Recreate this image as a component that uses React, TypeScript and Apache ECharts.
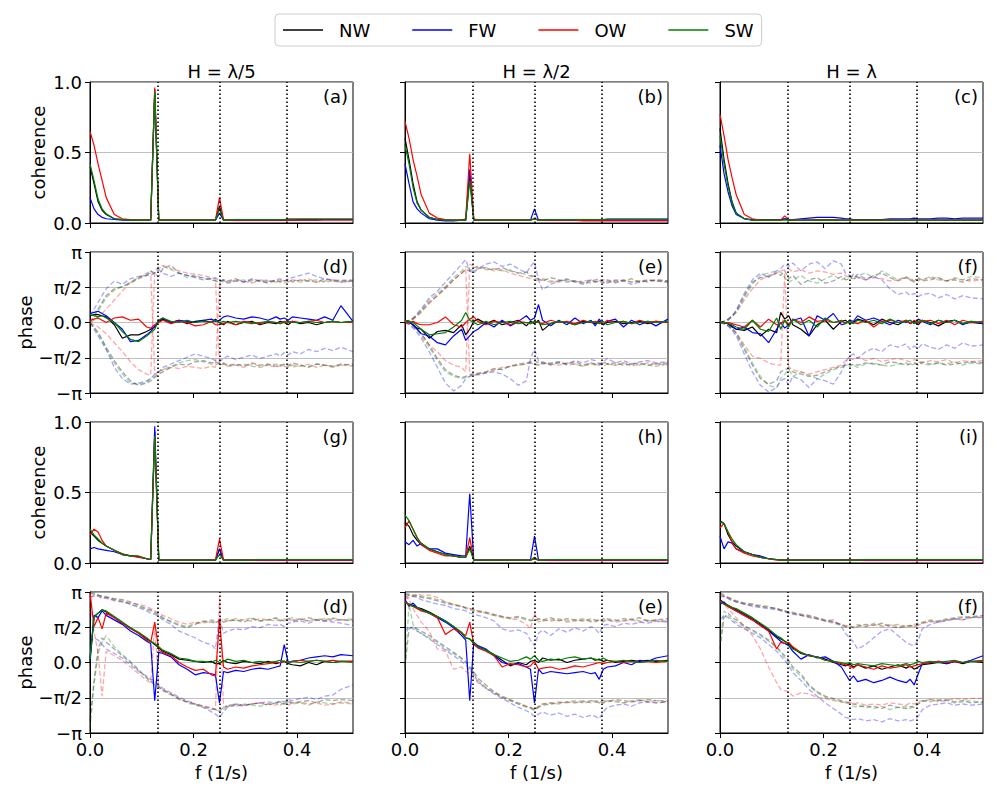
import { useEffect, useRef } from 'react';
import * as echarts from 'echarts';

const FONT = 'DejaVu Sans';

// frequency grid (1/s), shared by every curve
const freq = [
  0, 0.0078, 0.0156, 0.0234, 0.0313, 0.0469, 0.0625, 0.0781, 0.0938, 0.1094,
  0.1172, 0.125, 0.1328, 0.1406, 0.1563, 0.1719, 0.1875, 0.2031, 0.2188, 0.2344,
  0.2422, 0.25, 0.2578, 0.2656, 0.2813, 0.2969, 0.3125, 0.3281, 0.3438, 0.3594,
  0.3672, 0.375, 0.3828, 0.3906, 0.4063, 0.4219, 0.4375, 0.4531, 0.4688, 0.4844,
  0.5078,
];

const seriesNames = ['NW', 'FW', 'OW', 'SW'];
const seriesColors = ['#000000', '#0000ff', '#ff0000', '#008000'];
const columnTitles = ['H = λ/5', 'H = λ/2', 'H = λ'];
const panelLabels = ['(a)', '(b)', '(c)', '(d)', '(e)', '(f)', '(g)', '(h)', '(i)', '(d)', '(e)', '(f)'];
const rowNames = ['coherence', 'phase', 'coherence', 'phase'];
const phaseTickLabels = ['−π', '−π/2', '0.0', 'π/2', 'π'];
const xTicks = [0, 0.2, 0.4];
const markerFreqs = [0.125, 0.25, 0.375];

// ---- coherence, row 1 (NW, FW, OW, SW)
const cohA = [
  [0.40,0.28,0.15,0.09,0.06,0.03,0.025,0.02,0.02,0.02, 0.02,0.95,0.02,0.02,0.02,0.02,0.02,0.02,0.02,0.02, 0.02,0.12,0.02,0.02,0.02,0.02,0.02,0.02,0.02,0.02, 0.02,0.02,0.02,0.02,0.025,0.025,0.025,0.025,0.025,0.025, 0.025],
  [0.18,0.10,0.06,0.04,0.03,0.025,0.02,0.02,0.02,0.02, 0.02,0.92,0.02,0.02,0.02,0.02,0.02,0.02,0.02,0.02, 0.02,0.07,0.02,0.02,0.02,0.02,0.02,0.02,0.02,0.02, 0.02,0.02,0.02,0.02,0.02,0.02,0.02,0.025,0.025,0.025, 0.025],
  [0.65,0.55,0.42,0.30,0.18,0.06,0.03,0.025,0.02,0.02, 0.02,0.96,0.02,0.02,0.02,0.02,0.02,0.02,0.02,0.02, 0.02,0.18,0.02,0.02,0.02,0.02,0.02,0.02,0.02,0.02, 0.02,0.02,0.02,0.02,0.02,0.02,0.02,0.02,0.02,0.02, 0.02],
  [0.42,0.30,0.17,0.10,0.065,0.03,0.025,0.02,0.02,0.02, 0.02,0.93,0.02,0.02,0.02,0.02,0.02,0.02,0.02,0.02, 0.02,0.10,0.02,0.02,0.025,0.025,0.025,0.025,0.025,0.025, 0.025,0.025,0.03,0.03,0.03,0.03,0.03,0.03,0.03,0.03, 0.03],
];
const cohB = [
  [0.60,0.45,0.28,0.15,0.09,0.04,0.025,0.02,0.02,0.02, 0.02,0.33,0.02,0.02,0.02,0.02,0.02,0.02,0.02,0.02, 0.02,0.03,0.02,0.02,0.02,0.02,0.02,0.02,0.02,0.02, 0.02,0.02,0.02,0.02,0.02,0.02,0.02,0.02,0.02,0.02, 0.02],
  [0.42,0.28,0.15,0.10,0.07,0.03,0.02,0.015,0.015,0.02, 0.02,0.38,0.02,0.02,0.02,0.02,0.02,0.02,0.02,0.02, 0.02,0.10,0.02,0.02,0.02,0.02,0.02,0.02,0.02,0.02, 0.02,0.02,0.02,0.02,0.02,0.02,0.02,0.02,0.02,0.02, 0.02],
  [0.72,0.60,0.45,0.33,0.20,0.07,0.035,0.025,0.02,0.02, 0.03,0.49,0.03,0.02,0.02,0.02,0.02,0.02,0.02,0.02, 0.02,0.03,0.02,0.02,0.02,0.02,0.02,0.02,0.015,0.015, 0.015,0.015,0.015,0.015,0.015,0.015,0.015,0.015,0.015,0.015, 0.015],
  [0.55,0.42,0.25,0.14,0.09,0.04,0.025,0.02,0.02,0.02, 0.02,0.30,0.02,0.02,0.02,0.02,0.02,0.02,0.02,0.02, 0.02,0.03,0.02,0.02,0.025,0.025,0.025,0.025,0.025,0.025, 0.025,0.025,0.025,0.03,0.03,0.03,0.03,0.03,0.03,0.03, 0.03],
];
const cohC = [
  [0.67,0.45,0.28,0.15,0.07,0.03,0.02,0.02,0.02,0.02, 0.02,0.03,0.02,0.02,0.02,0.02,0.02,0.02,0.02,0.02, 0.02,0.02,0.02,0.02,0.02,0.02,0.02,0.02,0.02,0.02, 0.02,0.02,0.02,0.02,0.02,0.02,0.02,0.02,0.02,0.02, 0.02],
  [0.55,0.35,0.22,0.12,0.06,0.03,0.025,0.025,0.025,0.025, 0.025,0.03,0.025,0.025,0.03,0.035,0.04,0.04,0.04,0.035, 0.03,0.03,0.025,0.025,0.025,0.025,0.025,0.03,0.03,0.03, 0.03,0.035,0.03,0.03,0.03,0.035,0.035,0.03,0.035,0.035, 0.035],
  [0.77,0.62,0.45,0.32,0.20,0.06,0.03,0.02,0.02,0.02, 0.02,0.05,0.02,0.02,0.02,0.02,0.025,0.025,0.025,0.02, 0.02,0.02,0.02,0.02,0.02,0.02,0.02,0.02,0.02,0.02, 0.02,0.02,0.02,0.02,0.02,0.02,0.02,0.02,0.02,0.02, 0.02],
  [0.62,0.42,0.26,0.14,0.07,0.03,0.02,0.02,0.02,0.02, 0.02,0.02,0.02,0.02,0.02,0.02,0.02,0.02,0.02,0.02, 0.02,0.02,0.02,0.02,0.02,0.02,0.02,0.02,0.02,0.02, 0.02,0.02,0.02,0.02,0.02,0.02,0.02,0.02,0.02,0.02, 0.02],
];

// ---- coherence, row 3
const cohG = [
  [0.22,0.19,0.16,0.14,0.12,0.09,0.065,0.05,0.045,0.03, 0.025,0.93,0.02,0.02,0.02,0.02,0.02,0.02,0.02,0.02, 0.02,0.10,0.02,0.02,0.02,0.02,0.02,0.02,0.02,0.02, 0.02,0.02,0.02,0.02,0.02,0.02,0.02,0.02,0.02,0.02, 0.02],
  [0.10,0.11,0.10,0.095,0.09,0.08,0.06,0.05,0.045,0.03, 0.025,0.97,0.02,0.02,0.02,0.02,0.02,0.02,0.02,0.02, 0.02,0.10,0.02,0.02,0.02,0.02,0.02,0.02,0.02,0.02, 0.02,0.02,0.02,0.02,0.02,0.02,0.02,0.02,0.02,0.02, 0.02],
  [0.20,0.24,0.22,0.16,0.12,0.09,0.06,0.05,0.04,0.03, 0.025,0.90,0.02,0.02,0.02,0.02,0.02,0.02,0.02,0.02, 0.02,0.17,0.02,0.02,0.02,0.02,0.02,0.02,0.02,0.02, 0.02,0.02,0.02,0.02,0.02,0.02,0.02,0.02,0.02,0.02, 0.02],
  [0.24,0.20,0.17,0.14,0.12,0.09,0.06,0.05,0.05,0.03, 0.025,0.90,0.02,0.02,0.02,0.02,0.02,0.02,0.02,0.02, 0.02,0.06,0.02,0.02,0.02,0.02,0.02,0.025,0.025,0.025, 0.025,0.025,0.025,0.025,0.025,0.025,0.025,0.025,0.025,0.025, 0.025],
];
const cohH = [
  [0.29,0.26,0.20,0.16,0.13,0.10,0.08,0.06,0.05,0.04, 0.04,0.12,0.02,0.02,0.02,0.02,0.02,0.02,0.02,0.02, 0.02,0.03,0.02,0.02,0.02,0.02,0.02,0.02,0.02,0.02, 0.02,0.02,0.02,0.02,0.02,0.02,0.02,0.02,0.02,0.02, 0.02],
  [0.15,0.13,0.16,0.12,0.14,0.10,0.10,0.07,0.06,0.05, 0.05,0.49,0.02,0.02,0.02,0.02,0.02,0.02,0.02,0.02, 0.02,0.19,0.02,0.02,0.02,0.02,0.02,0.02,0.02,0.02, 0.02,0.02,0.02,0.02,0.02,0.02,0.02,0.02,0.02,0.02, 0.02],
  [0.25,0.30,0.24,0.18,0.13,0.09,0.07,0.05,0.05,0.04, 0.04,0.18,0.02,0.02,0.02,0.02,0.02,0.02,0.02,0.02, 0.02,0.03,0.02,0.02,0.02,0.02,0.02,0.02,0.02,0.02, 0.02,0.02,0.02,0.02,0.02,0.02,0.02,0.02,0.02,0.02, 0.02],
  [0.34,0.30,0.24,0.18,0.14,0.10,0.08,0.06,0.05,0.04, 0.04,0.10,0.02,0.02,0.02,0.02,0.02,0.02,0.02,0.02, 0.02,0.04,0.02,0.02,0.025,0.025,0.025,0.025,0.025,0.025, 0.025,0.025,0.025,0.025,0.025,0.025,0.025,0.025,0.025,0.025, 0.025],
];
const cohI = [
  [0.30,0.28,0.20,0.15,0.12,0.08,0.06,0.04,0.03,0.025, 0.02,0.02,0.02,0.02,0.02,0.02,0.02,0.02,0.02,0.02, 0.02,0.02,0.02,0.02,0.02,0.02,0.02,0.02,0.02,0.02, 0.02,0.02,0.02,0.02,0.02,0.02,0.02,0.02,0.02,0.02, 0.02],
  [0.19,0.10,0.15,0.14,0.10,0.08,0.06,0.05,0.03,0.025, 0.02,0.02,0.02,0.02,0.02,0.02,0.02,0.02,0.02,0.02, 0.02,0.02,0.02,0.02,0.02,0.02,0.02,0.02,0.02,0.02, 0.02,0.02,0.02,0.02,0.02,0.02,0.02,0.02,0.02,0.02, 0.02],
  [0.25,0.28,0.22,0.14,0.10,0.07,0.05,0.04,0.03,0.02, 0.02,0.02,0.02,0.02,0.02,0.02,0.02,0.02,0.02,0.02, 0.02,0.02,0.02,0.02,0.02,0.02,0.02,0.02,0.02,0.02, 0.02,0.02,0.02,0.02,0.02,0.02,0.02,0.02,0.02,0.02, 0.02],
  [0.29,0.28,0.22,0.17,0.13,0.08,0.06,0.04,0.03,0.025, 0.02,0.02,0.02,0.02,0.02,0.02,0.02,0.02,0.02,0.02, 0.02,0.02,0.02,0.02,0.025,0.025,0.025,0.025,0.025,0.025, 0.025,0.025,0.025,0.025,0.025,0.025,0.025,0.025,0.025,0.025, 0.025],
];

// ---- phase (rad), row 2, solid (NW, FW, OW, SW)
const phaseD = [
  [0.3,0.35,0.35,0.3,0.25,-0.1,-0.7,-0.55,-0.55,-0.4, -0.3,-0.2,0.05,0.15,0,0.1,-0.05,0.05,0.1,0, 0.15,0,-0.1,0.05,-0.1,0,0.05,-0.1,0,-0.05, 0.05,0,-0.1,0.05,-0.05,0,-0.1,0,0.05,0, 0.05],
  [0.4,0.45,0.5,0.4,0.3,0,-0.3,-0.85,-0.8,-0.55, -0.4,-0.15,0.1,0.2,0,0.1,0.05,0,0.1,0.15, 0.05,0.1,0.25,0.3,0.2,0.15,0.25,0.2,0.1,0.25, 0.15,0.2,0.1,0.25,0.2,0.15,0.1,0.25,0.1,0.75, 0.05],
  [0.1,0.15,0.2,0.1,0,0.2,0.25,0.1,0.15,-0.2, -0.25,-0.1,0,0.1,-0.05,0.05,0,-0.15,-0.1,0.05, -0.1,-0.1,-0.05,0,-0.1,0.05,0,-0.05,0.05,0, -0.05,0.05,0,0.05,0,0.05,0.1,0,0.05,0, 0],
  [0.35,0.3,0.25,0.3,0.2,0,-0.4,-0.75,-0.85,-0.6, -0.45,-0.3,0.1,0.2,0.05,0,0.1,0,0.05,0, 0.1,0,0.05,0,0.05,0,-0.05,0,0.05,0, -0.05,0,0.05,0,0,0.05,0,0,0.05,0, 0.05],
];
const phaseE = [
  [0.1,0.05,-0.1,-0.25,-0.3,-0.7,-0.4,-0.35,-0.45,-0.1, -0.55,-0.3,0.05,0.15,-0.05,0.1,-0.1,0,0.1,-0.15, 0.05,-0.05,0.1,-0.35,-0.05,0.05,0,-0.1,0.05,0, -0.05,0.05,-0.1,0,0.05,-0.05,0,0.05,-0.05,0.05, 0],
  [0.1,0,-0.1,-0.3,-0.5,-0.6,-0.9,-1.0,-0.6,-0.3, -0.8,-0.6,-0.4,-0.3,0,-0.2,0.1,-0.15,0.05,0.3, 0.1,0.2,0.8,0.1,-0.15,0.1,-0.1,0.2,-0.05,0.1, -0.15,0.15,-0.1,0.05,0.15,-0.2,0.1,-0.1,0.05,-0.15, 0.15],
  [0.05,0,0.05,-0.05,-0.1,-0.1,0,0.25,-0.1,-0.2, 0,0.15,0.25,0.05,-0.1,0.05,0,-0.1,0.05,0, -0.05,0.05,0,-0.05,0.1,0,0.05,-0.05,0.1,0, 0.05,0,-0.05,0.1,0,0.05,-0.05,0.1,0,0.05, 0],
  [0.1,0.05,0,-0.15,-0.3,-0.55,-0.5,-0.45,-0.2,0.1, 0.45,0.1,0,-0.1,0.05,-0.1,0,0.05,-0.05,0, -0.05,0.05,0,-0.1,-0.05,0.05,0,-0.1,0,0.05, 0,-0.05,0.05,-0.1,0,0.05,-0.05,0,0.05,0, 0.05],
];
const phaseF = [
  [0.05,0,-0.05,-0.2,-0.3,-0.35,-0.2,-0.6,-0.3,-0.45, 0.45,0.15,0.3,-0.1,-0.3,-0.6,-0.1,0.1,-0.3,0.05, 0.1,-0.05,0,0.15,0.05,-0.1,0.15,0,-0.1,0.1, -0.05,0.05,-0.1,0.1,0,-0.15,0.05,0.1,-0.05,0, -0.05],
  [0.05,0,-0.05,-0.15,-0.3,-0.2,-0.45,-0.5,-0.9,-0.3, 0,-0.25,-0.1,0.1,0.2,-0.6,0.3,0.1,0.4,-0.1, -0.05,0.1,0.05,0.3,0.1,0.2,0.05,-0.1,0.1,0, 0.1,-0.05,0.15,0.05,-0.1,0.1,0,0.1,-0.1,0.05, -0.05],
  [0.05,0,0,-0.05,-0.1,-0.2,0.1,-0.2,0.15,-0.1, -0.05,0.1,-0.1,0.15,0,0.25,0.05,0.1,0,0.05, 0,0.05,0,-0.05,0.1,-0.2,0.05,0.1,0,0.1, -0.05,0.1,0,0.05,0.1,-0.05,0.1,-0.1,0.1,0, 0.05],
  [0.05,0,-0.05,-0.1,-0.2,-0.3,0.1,-0.3,-0.4,0.2, -0.3,0.1,-0.2,0.15,-0.1,0.1,-0.2,0.2,0,0.1, -0.05,0.05,-0.05,0.1,0,0.1,-0.05,0.15,0,0.05, 0.1,-0.05,0.05,0.1,-0.05,0.1,0,0.1,-0.05,0.05, 0],
];

// ---- phase (rad), row 4, solid
const phaseJ = [
  [0,2.05,2.2,2.35,2.25,2.0,1.75,1.55,1.3,1.05, 0.95,0.8,0.65,0.5,0.35,0.15,0.1,0.05,0,0.05, -0.05,-0.05,0.1,0,-0.05,0.05,0,-0.05,0.05,-0.05, 0,0.05,-0.05,-0.1,-0.15,0,-0.1,0.05,0,0.05, 0.05],
  [0.2,2.1,2.0,2.3,2.1,1.9,1.7,1.4,1.2,0.95, 0.85,-1.7,0.45,0.4,0.25,-0.1,-0.3,-0.55,-0.45,-0.5, -0.55,-1.8,-0.4,-0.45,-0.35,-0.4,-0.3,-0.25,-0.3,-0.2, -0.15,0.8,0,0.05,0.1,0.2,0.25,0.3,0.25,0.35, 0.3],
  [3.1,1.6,2.0,1.5,2.2,2.0,1.75,1.5,1.3,1.0, 0.9,1.8,0.55,0.45,0.3,0,-0.2,-0.35,-0.3,-0.55, -0.6,1.9,-0.2,-0.3,-0.2,-0.25,-0.15,-0.1,-0.05,0, 0,0.05,0,0.05,0.1,0.05,0.1,0.05,0.1,0.05, 0.05],
  [0.15,2.0,2.2,2.35,2.3,2.05,1.8,1.55,1.35,1.1, 0.95,0.85,0.7,0.55,0.4,0.2,0.15,0.05,0.05,0, 0.1,0,0.05,0.15,0.05,0.1,0,0.05,0,0.05, 0.1,0.05,0,0.05,0,0.05,0.1,0.05,0,0.05, 0],
];
const phaseK = [
  [2.7,2.6,2.55,2.45,2.4,2.25,2.05,1.85,1.6,1.3, 1.1,1.05,0.85,0.7,0.55,0.35,0.1,-0.15,0,-0.1, 0.05,0.1,0,0.2,0.1,0.15,0,0.1,0.15,0.2, 0.1,0.15,0.05,0.1,0,0.05,0.1,0.05,0.1,0.05, 0.1],
  [2.8,2.5,2.65,2.45,2.35,2.2,2.0,1.8,1.55,1.2, 1.0,-1.7,0.9,0.75,0.6,0.3,0,-0.1,-0.05,-0.2, -0.3,-1.8,-0.3,-0.5,-0.4,-0.45,-0.5,-0.45,-0.4,-0.5, -0.45,-0.75,-0.3,-0.2,-0.15,0,-0.1,0.1,0.05,0.2, 0.3],
  [2.7,2.55,2.5,2.4,2.3,2.2,2.0,1.25,1.5,1.3, 1.2,1.8,0.8,0.65,0.5,0.3,-0.2,-0.05,-0.1,-0.2, -0.15,0.05,-0.3,-0.25,-0.2,-0.3,-0.25,-0.15,-0.2,-0.1, -0.05,0,-0.05,0,0.05,0,0.05,0,0.05,0, 0.05],
  [2.65,2.6,2.5,2.45,2.35,2.2,2.05,1.85,1.6,1.35, 1.1,1.05,0.9,0.7,0.55,0.35,0.2,0.05,0.1,0.25, 0.15,0.3,0.1,0.05,0.15,0.1,0.2,0.25,0.15,0.2, 0.15,0.1,0.2,0.1,0.05,0.1,0.05,0,0.05,0.1, 0.05],
];
const phaseL = [
  [2.8,2.65,2.55,2.45,2.35,2.15,1.95,1.7,1.45,1.15, 1.05,0.95,0.85,0.65,0.4,0.3,0.25,0.15,0,-0.1, -0.15,-0.05,-0.2,-0.1,-0.25,-0.15,-0.3,-0.2,-0.1,-0.25, -0.15,-0.3,-0.2,-0.1,-0.05,0,-0.05,0.05,-0.05,0.05, 0],
  [2.6,2.7,2.5,2.4,2.3,2.1,1.9,1.65,1.4,1.1, 0.95,0.85,0.75,0.5,0.15,0.35,0.2,0.25,0.05,-0.2, -0.5,-0.8,-0.6,-0.85,-0.75,-0.9,-0.8,-0.65,-0.8,-0.9, -0.75,-1.0,-0.5,-0.05,0,0.05,-0.05,0.05,0,0.1, 0.3],
  [2.75,2.6,2.5,2.4,2.3,2.1,1.9,1.65,1.4,0.6, 0.9,0.85,0.9,0.7,0.45,0.3,0.25,0.1,0.05,-0.05, -0.1,-0.15,-0.25,-0.1,-0.2,-0.3,-0.15,-0.25,-0.2,-0.1, -0.2,-0.15,-0.1,-0.05,0,0.05,0,0.05,0,0.05, 0.05],
  [2.7,2.6,2.55,2.45,2.4,2.2,2.0,1.75,1.5,1.2, 1.1,0.95,0.8,0.6,0.45,0.3,0.25,0.1,0.05,0, -0.05,0,-0.1,-0.05,-0.1,-0.15,-0.05,-0.1,-0.15,-0.05, -0.1,-0.05,0.05,0,0.05,0,0.05,0.1,0,0.05, 0.1],
];

// ---- phase branches, dashed: NW up/down, FW up/down, OW up/down, SW up/down
const dashD = [
  [0,0.3,0.6,0.9,1.2,1.5,1.6,1.75,1.95,2.1, 2.3,2.15,2.05,2.4,2.55,2.2,2.1,2.0,1.9,1.95, 1.85,1.8,1.9,1.85,1.95,1.8,1.9,1.85,1.75,1.9, 1.8,1.85,1.95,1.8,1.9,1.85,1.8,1.95,1.85,1.8, 1.85],
  [0,-0.2,-0.45,-0.75,-1.1,-1.7,-2.2,-2.6,-2.8,-2.7, -2.6,-2.45,-2.3,-2.2,-2.0,-1.85,-1.9,-1.75,-1.7,-1.8, -1.75,-1.85,-1.8,-1.9,-1.85,-1.95,-1.8,-1.9,-1.85,-1.95, -1.9,-1.85,-1.95,-1.8,-1.9,-2.0,-1.85,-1.9,-1.95,-1.85, -1.9],
  [0.3,0.6,0.9,1.2,1.5,1.85,1.7,1.95,2.05,2.1, 2.1,2.2,2.35,2.2,2.05,2.2,2.1,2.05,2.0,1.95, 2.0,1.85,1.9,1.75,1.85,1.8,1.95,1.85,1.8,1.9, 1.95,1.85,1.9,2.0,2.1,2.2,2.05,1.95,1.9,1.85, 1.9],
  [0,-0.3,-0.6,-0.9,-1.2,-2.0,-2.5,-2.75,-2.7,-2.6, -2.5,-2.3,-2.2,-2.0,-1.85,-1.7,-1.55,-1.4,-1.5,-1.6, -1.7,-1.75,-1.6,-1.5,-1.65,-1.55,-1.45,-1.6,-1.5,-1.4, -1.5,-1.35,-1.45,-1.3,-1.4,-1.2,-1.3,-1.15,-1.25,-1.1, -1.3],
  [0,0.1,0.25,0.4,0.6,1.0,1.4,1.8,2.0,2.15, 2.2,-2.3,-2.2,-2.1,-2.0,-2.05,-1.95,-2.0,-2.05,-1.95, -2.0,1.6,1.85,1.8,1.9,1.85,1.75,1.9,1.85,1.8, 1.9,1.85,1.8,1.9,1.85,1.95,1.8,1.85,1.9,1.8, 1.85],
  [0,-0.1,-0.2,-0.35,-0.5,-0.9,-1.3,-1.75,-2.1,-2.3, -2.35,2.3,2.5,2.55,2.4,2.3,2.2,2.15,2.1,2.0, 1.95,-1.9,-1.85,-1.95,-1.9,-2.0,-1.85,-1.95,-1.9,-2.0, -1.9,-1.95,-2.0,-1.9,-1.95,-1.85,-2.0,-1.9,-1.95,-1.9, -1.95],
  [0,0.2,0.5,0.8,1.1,1.45,1.6,1.8,2.0,2.2, 2.3,2.2,2.4,2.5,2.35,2.2,2.0,2.1,1.95,1.9, 1.85,1.8,1.9,1.8,1.85,1.9,1.8,1.85,1.9,1.8, 1.85,1.75,1.85,1.9,1.8,1.85,1.9,1.8,1.85,1.9, 1.85],
  [0,-0.25,-0.5,-0.8,-1.2,-1.8,-2.3,-2.7,-2.75,-2.65, -2.5,-2.4,-2.2,-2.1,-1.95,-1.8,-1.7,-1.65,-1.75,-1.85, -1.9,-1.8,-1.85,-1.95,-1.9,-1.85,-1.95,-2.0,-1.9,-1.85, -1.95,-1.9,-1.85,-2.0,-1.9,-1.95,-1.85,-1.9,-2.0,-1.9, -1.85],
];
const dashE = [
  [0,0.05,0.15,0.3,0.5,0.9,1.2,1.55,1.9,2.2, 2.35,2.3,2.45,2.5,2.4,2.35,2.45,2.3,2.2,2.25, 2.1,2.05,1.95,1.85,2.0,1.9,1.8,1.85,1.75,1.9, 1.8,1.85,1.75,1.9,1.8,1.85,1.95,1.8,1.85,1.9, 1.85],
  [0,-0.05,-0.15,-0.3,-0.5,-1.0,-1.6,-2.1,-2.35,-2.45, -2.4,-2.35,-2.25,-2.3,-2.2,-2.05,-2.1,-1.95,-1.85,-1.8, -1.75,-1.7,-1.8,-1.75,-1.9,-1.8,-1.85,-1.75,-1.9,-1.8, -1.85,-1.9,-1.75,-1.85,-1.8,-1.9,-1.85,-1.8,-1.9,-1.85, -1.8],
  [0,0.1,0.2,0.4,0.6,1.1,1.4,1.8,2.2,2.6, 2.8,2.3,2.2,2.4,2.6,2.7,2.5,2.6,2.4,2.2, 2.5,2.7,1.9,1.45,1.7,1.85,1.95,1.8,1.7,1.85, 1.9,1.95,1.8,1.75,1.9,1.85,1.7,1.8,1.9,1.85, 1.8],
  [0,-0.1,-0.25,-0.45,-0.7,-1.3,-2.0,-2.7,-3.05,-2.8, -2.5,-2.4,-2.35,-2.3,-2.25,-2.2,-2.3,-2.5,-2.8,-2.6, -1.6,-1.2,-1.7,-1.85,-1.8,-1.75,-1.85,-1.7,-1.8,-1.65, -1.7,-1.85,-1.75,-1.6,-1.8,-1.7,-1.85,-1.75,-1.7,-1.8, -1.75],
  [0,0.05,0.15,0.3,0.45,0.85,1.2,1.5,1.9,2.2, 2.4,-2.3,-2.35,-2.25,-2.2,-2.1,-2.0,-1.95,-1.9,-1.85, -1.8,-1.85,-1.9,-1.8,-1.85,-1.9,-1.8,-1.85,-1.95,-1.8, -1.85,-1.9,-1.8,-1.85,-1.9,-1.8,-1.85,-1.9,-1.8,-1.85, -1.9],
  [0,-0.05,-0.15,-0.3,-0.5,-1.0,-1.3,-1.7,-1.9,-2.0, -2.2,2.6,2.5,2.4,2.45,2.3,2.35,2.2,2.1,2.0, 1.95,1.9,1.85,1.9,1.8,1.85,1.9,1.8,1.85,1.9, 1.8,1.85,1.9,1.8,1.85,1.9,1.8,1.85,1.9,1.85, 1.8],
  [0,0.05,0.2,0.35,0.55,1.0,1.3,1.6,2.0,2.3, 2.5,2.4,2.3,2.45,2.35,2.4,2.3,2.35,2.2,2.15, 2.05,2.0,1.9,1.95,1.85,1.8,1.9,1.85,1.8,1.75, 1.85,1.8,1.9,1.85,1.75,1.9,1.8,1.85,1.8,1.9, 1.85],
  [0,-0.05,-0.2,-0.35,-0.6,-1.1,-1.7,-2.2,-2.4,-2.5, -2.45,-2.4,-2.3,-2.35,-2.25,-2.15,-2.05,-1.95,-1.9,-1.85, -1.8,-1.85,-1.9,-1.8,-1.85,-1.75,-1.9,-1.85,-1.95,-1.85, -1.9,-1.8,-1.95,-1.85,-1.9,-1.8,-1.95,-1.85,-1.9,-1.95, -1.85],
];
const dashF = [
  [0,0.05,0.15,0.3,0.5,1.2,1.8,2.0,2.05,2.2, 2.1,2.3,1.95,2.1,1.7,1.9,2.0,1.75,1.85,2.05, 1.9,1.95,2.15,2.0,1.9,2.1,2.2,2.0,1.85,2.0, 1.9,1.8,1.95,1.85,1.9,2.0,1.85,1.9,1.8,1.95, 1.9],
  [0,-0.05,-0.15,-0.3,-0.5,-1.2,-1.9,-2.5,-2.75,-2.6, -2.2,-2.1,-2.05,-2.2,-2.3,-2.4,-2.35,-2.2,-2.05,-1.95, -1.9,-1.95,-1.85,-1.9,-1.8,-1.85,-1.9,-1.75,-1.8,-1.9, -1.85,-1.8,-1.9,-1.75,-1.85,-1.8,-1.9,-1.85,-1.8,-1.75, -1.8],
  [0,0.05,0.15,0.3,0.55,1.3,1.9,2.2,2.0,2.3, 2.4,2.6,2.5,2.65,2.3,2.6,2.7,2.4,2.75,2.6, 2.2,2.1,2.0,2.15,1.95,2.05,1.9,1.5,1.25,1.35, 1.2,1.3,1.15,1.25,1.3,1.1,1.25,1.05,1.2,1.1, 1.05],
  [0,-0.05,-0.15,-0.35,-0.6,-1.4,-2.2,-2.8,-3.1,-2.9, -2.6,-2.5,-2.8,-2.4,-2.55,-2.9,-2.5,-2.6,-2.75,-2.2, -1.8,-1.5,-1.4,-1.6,-1.3,-1.15,-1.3,-1.0,-1.1,-0.95, -1.2,-1.05,-1.15,-0.95,-1.1,-1.2,-1.0,-1.15,-0.9,-1.05, -1.0],
  [0,0.05,0.1,0.25,0.45,1.0,1.5,1.9,2.1,2.2, 2.3,2.35,2.4,2.25,2.35,2.2,2.3,2.25,2.15,2.2, 2.1,2.0,1.95,2.05,1.9,2.0,1.95,1.85,1.9,2.0, 1.9,1.95,1.85,1.9,2.0,1.9,1.85,1.95,1.9,1.85, 1.9],
  [0,-0.05,-0.1,-0.25,-0.45,-1.0,-1.5,-1.6,-1.8,-1.9, -1.9,2.2,-2.0,-2.1,-2.2,-2.3,-2.2,-2.1,-2.0,-1.9, -1.7,-1.6,-1.65,-1.55,-1.7,-1.6,-1.75,-1.65,-1.6,-1.7, -1.75,-1.65,-1.7,-1.8,-1.7,-1.75,-1.65,-1.8,-1.7,-1.75, -1.7],
  [0,0.05,0.1,0.25,0.45,1.1,1.7,2.1,2.2,2.3, 2.25,2.0,1.8,1.9,2.1,1.85,1.75,1.95,2.1,1.9, 2.0,2.05,1.9,2.1,2.2,2.0,2.3,2.1,1.9,2.05, 1.95,1.85,2.0,1.9,2.05,1.95,1.85,2.0,1.9,2.05, 2.0],
  [0,-0.05,-0.1,-0.25,-0.45,-1.1,-1.8,-2.4,-2.8,-2.9, -2.5,-2.3,-2.1,-2.4,-2.2,-2.35,-2.5,-2.3,-2.1,-2.0, -1.95,-1.85,-1.9,-2.0,-1.85,-1.8,-1.9,-1.95,-1.85,-1.8, -1.9,-1.85,-1.75,-1.85,-1.9,-1.8,-1.85,-1.75,-1.9,-1.8, -1.85],
];
const dashJ = [
  [3.1,3.05,3.0,2.95,2.9,2.85,2.8,2.7,2.55,2.4, 2.35,2.25,2.15,2.0,1.8,1.65,1.55,1.7,1.85,1.8, 1.75,1.9,1.8,1.85,1.9,1.8,1.95,1.85,1.9,2.0, 1.85,1.9,1.95,1.85,1.9,2.0,1.9,1.85,1.95,1.9, 1.85],
  [-2.6,-0.8,0.6,1.1,0.9,0.6,0.3,0,-0.35,-0.7, -0.85,-1.0,-1.1,-1.2,-1.4,-1.65,-1.75,-1.85,-1.95,-2.05, -2.1,-2.15,-2.0,-1.95,-1.85,-1.9,-1.85,-1.8,-1.9,-1.8, -1.75,-1.85,-1.7,-1.8,-1.75,-1.7,-1.8,-1.65,-1.7,-1.65, -1.7],
  [2.9,3.0,2.95,2.85,2.9,2.75,2.7,2.6,2.45,2.3, 2.2,2.15,2.05,1.9,1.7,1.4,1.25,1.1,0.9,0.8, 0.6,2.0,1.3,1.4,1.5,1.45,1.6,1.55,1.7,1.65, 1.7,1.6,1.75,1.8,1.85,1.75,1.9,1.85,1.8,1.75, 1.65],
  [0.9,1.1,1.0,0.8,0.6,0.4,0.2,-0.1,-0.4,-0.6, -0.75,-0.8,-1.0,-1.15,-1.35,-1.55,-1.7,-1.85,-2.0,-2.2, -2.3,-2.45,-2.2,-2.0,-1.9,-1.95,-1.85,-1.8,-1.75,-1.8, -1.7,-1.75,-1.65,-1.7,-1.6,-1.55,-1.65,-1.5,-1.45,-1.2, -1.0],
  [2.9,2.95,3.0,2.9,2.85,2.8,2.7,2.65,2.6,2.5, 2.4,2.3,2.2,2.1,1.95,1.8,1.7,1.8,1.75,1.85, 1.8,1.9,1.9,1.85,1.95,1.9,1.85,1.95,1.9,1.85, 1.9,1.95,1.85,1.9,1.95,1.85,1.9,1.95,1.85,1.9, 1.9],
  [2.6,1.4,0.4,-1.5,0.5,0.3,0.1,-0.2,-0.5,-0.8, -0.9,1.6,-1.1,-1.25,-1.4,-1.6,-1.75,-1.85,-1.95,-2.0, -2.1,2.9,-2.0,-1.9,-1.85,-1.9,-1.85,-1.8,-1.85,-1.9, -1.8,-1.85,-1.9,-1.8,-1.75,-1.85,-1.8,-1.9,-1.85,-1.8, -1.85],
  [3.1,3.1,3.0,2.95,2.95,2.8,2.75,2.6,2.5,2.35, 2.3,2.2,2.1,1.95,1.85,1.7,1.6,1.75,1.8,1.9, 1.85,1.8,1.9,1.95,1.85,1.9,2.0,1.85,1.9,1.95, 1.9,1.85,1.95,2.0,1.9,1.85,1.95,1.9,2.0,1.9, 1.95],
  [-2.9,-1.0,0.4,0.9,1.2,0.7,0.35,0.05,-0.3,-0.65, -0.8,-0.95,-1.05,-1.25,-1.45,-1.6,-1.8,-1.9,-2.0,-2.1, -2.05,-2.2,-2.1,-1.9,-1.95,-1.85,-1.9,-1.95,-1.85,-1.8, -1.9,-1.8,-1.75,-1.85,-1.8,-1.9,-1.75,-1.8,-1.85,-1.75, -1.8],
];
const dashK = [
  [3.05,3.0,2.95,3.0,2.9,2.85,2.75,2.65,2.55,2.5, 2.45,2.4,2.35,2.3,2.25,2.15,2.05,2.0,2.05,1.95, 1.9,1.85,1.95,1.9,2.0,1.85,1.95,1.9,1.85,1.95, 1.9,1.85,1.95,1.9,1.85,1.95,1.9,2.0,1.85,1.9, 1.95],
  [-0.2,1.5,1.6,1.5,1.4,1.2,0.95,0.7,0.45,0.2, 0.05,-0.2,-0.4,-0.7,-1.0,-1.3,-1.5,-1.65,-1.8,-1.95, -2.0,-2.1,-2.0,-1.9,-1.85,-1.8,-1.75,-1.8,-1.75,-1.7, -1.75,-1.8,-1.7,-1.75,-1.65,-1.7,-1.75,-1.7,-1.65,-1.7, -1.75],
  [2.9,3.0,2.95,2.9,2.8,2.7,2.6,2.55,2.4,2.35, 2.3,2.2,2.15,2.1,2.0,1.85,1.5,1.4,1.45,1.3, 1.0,0.75,1.3,1.45,1.2,1.5,1.35,1.55,1.4,1.6, 1.5,1.3,1.65,1.7,1.6,1.75,1.7,1.8,1.75,1.85, 1.8],
  [1.4,1.6,1.5,1.4,1.3,1.05,0.8,0.55,0.3,0.05, -0.1,-0.35,-0.55,-0.85,-1.15,-1.4,-1.6,-1.8,-2.0,-2.15, -2.25,-2.4,-2.3,-2.2,-2.35,-2.25,-2.4,-2.3,-2.45,-2.35, -2.4,-2.5,-2.2,-2.0,-1.9,-1.85,-1.95,-1.8,-1.75,-1.8, -1.75],
  [2.8,2.9,3.0,3.05,3.0,3.0,2.9,2.7,2.6,2.5, 2.45,2.4,2.35,2.3,2.2,2.1,2.05,1.95,1.9,1.7, 1.5,2.2,1.8,1.9,1.85,1.9,1.8,1.85,1.9,1.85, 1.8,1.9,1.85,1.9,1.8,1.85,1.9,1.8,1.85,1.9, 1.85],
  [3.0,2.8,2.4,2.1,1.8,1.4,0.6,0.5,-0.3,-0.2, -0.4,-0.5,-0.7,-0.9,-1.15,-1.35,-1.55,-1.7,-1.85,-1.95, -2.0,-2.1,-1.95,-1.85,-1.8,-1.75,-1.8,-1.75,-1.7,-1.8, -1.75,-1.7,-1.8,-1.75,-1.7,-1.8,-1.75,-1.7,-1.75,-1.8, -1.75],
  [3.1,3.05,3.0,2.95,2.95,2.9,2.8,2.7,2.6,2.5, 2.4,2.35,2.3,2.25,2.2,2.1,2.0,1.95,2.0,1.9, 1.85,1.9,1.95,1.85,1.9,1.95,1.85,1.9,1.95,1.8, 1.85,1.9,1.8,1.95,1.9,1.85,1.95,1.85,1.9,1.8, 1.85],
  [-0.3,2.6,1.7,1.4,1.3,1.1,0.9,0.6,0.4,0.15, 0,-0.25,-0.5,-0.8,-1.1,-1.35,-1.55,-1.7,-1.85,-2.0, -2.05,-2.15,-1.95,-1.85,-1.8,-1.85,-1.75,-1.7,-1.8,-1.75, -1.7,-1.75,-1.8,-1.7,-1.75,-1.8,-1.7,-1.65,-1.75,-1.7, -1.7],
];
const dashL = [
  [3.1,3.0,2.9,2.8,2.7,2.6,2.55,2.5,2.45,2.4, 2.35,2.3,2.25,2.2,2.15,2.1,2.0,1.9,1.8,1.7, 1.6,1.65,1.55,1.6,1.7,1.65,1.75,1.6,1.55,1.6, 1.65,1.6,1.7,1.75,1.85,1.8,1.9,1.95,2.0,2.05, 2.1],
  [0.6,2.0,2.2,2.0,1.9,1.65,1.45,1.25,1.0,0.7, 0.5,0.3,0.1,-0.2,-0.5,-1.0,-1.3,-1.5,-1.6,-1.7, -1.75,-1.8,-1.85,-1.9,-2.0,-1.95,-2.05,-1.9,-2.0,-2.05, -1.95,-2.0,-1.85,-1.75,-1.65,-1.7,-1.65,-1.75,-1.7,-1.8, -1.75],
  [2.9,2.95,2.85,2.75,2.7,2.6,2.5,2.45,2.4,2.35, 2.3,2.25,2.2,2.15,2.1,2.0,1.95,1.85,1.9,1.6, 1.3,1.1,0.9,0.6,0.8,1.1,1.4,1.5,1.2,0.9, 0.8,0.75,1.0,1.5,1.7,1.8,1.85,1.95,1.9,2.0, 2.0],
  [1.9,2.1,2.0,1.85,1.7,1.5,1.3,1.1,0.8,0.5, 0.3,0.1,-0.15,-0.45,-0.8,-1.2,-1.5,-1.8,-2.05,-2.3, -2.45,-2.5,-2.55,-2.5,-2.6,-2.55,-2.65,-2.5,-2.6,-2.55, -2.6,-2.55,-2.4,-2.1,-1.9,-1.85,-1.8,-1.9,-1.85,-1.9, -1.85],
  [3.0,2.95,2.9,2.85,2.75,2.65,2.6,2.55,2.5,2.4, 2.35,2.3,2.25,2.2,2.1,2.05,1.95,1.85,1.8,1.7, 1.65,1.6,1.55,1.65,1.6,1.7,1.6,1.65,1.7,1.6, 1.65,1.6,1.65,1.75,1.8,1.85,1.9,1.95,1.9,2.0, 2.05],
  [2.8,2.6,2.4,2.2,2.0,1.6,1.2,0.6,-0.2,-0.9, -1.2,-1.25,-1.3,-1.5,-1.35,-1.4,-1.55,-1.6,-1.7,-1.75, -1.8,-1.75,-1.85,-1.8,-1.9,-1.85,-1.9,-1.8,-1.85,-1.9, -1.8,-1.85,-1.75,-1.7,-1.65,-1.75,-1.7,-1.6,-1.65,-1.6, -1.6],
  [3.05,2.95,2.85,2.8,2.75,2.65,2.6,2.5,2.45,2.4, 2.35,2.3,2.2,2.25,2.1,2.05,1.95,1.85,1.75,1.65, 1.6,1.55,1.6,1.7,1.6,1.75,1.65,1.7,1.6,1.65, 1.6,1.7,1.75,1.8,1.9,1.85,1.95,2.0,2.05,2.0, 2.05],
  [0.9,2.3,2.1,1.9,1.8,1.6,1.4,1.2,0.95,0.65, 0.45,0.2,0,-0.3,-0.6,-1.05,-1.35,-1.55,-1.65,-1.75, -1.8,-1.85,-1.95,-2.0,-1.9,-2.05,-1.95,-2.1,-2.0,-1.95, -2.05,-1.9,-1.8,-1.7,-1.75,-1.65,-1.7,-1.8,-1.75,-1.7, -1.8],
];

type Panel = { row: number; col: number; kind: 'coh' | 'phase'; lines: number[][]; dashed?: number[][] };

const panels: Panel[] = [
  { row: 0, col: 0, kind: 'coh', lines: cohA },
  { row: 0, col: 1, kind: 'coh', lines: cohB },
  { row: 0, col: 2, kind: 'coh', lines: cohC },
  { row: 1, col: 0, kind: 'phase', lines: phaseD, dashed: dashD },
  { row: 1, col: 1, kind: 'phase', lines: phaseE, dashed: dashE },
  { row: 1, col: 2, kind: 'phase', lines: phaseF, dashed: dashF },
  { row: 2, col: 0, kind: 'coh', lines: cohG },
  { row: 2, col: 1, kind: 'coh', lines: cohH },
  { row: 2, col: 2, kind: 'coh', lines: cohI },
  { row: 3, col: 0, kind: 'phase', lines: phaseJ, dashed: dashJ },
  { row: 3, col: 1, kind: 'phase', lines: phaseK, dashed: dashK },
  { row: 3, col: 2, kind: 'phase', lines: phaseL, dashed: dashL },
];

const gridLeft = [90, 405, 720];
const gridTop = [82, 252, 422, 592];
const gridW = 263;
const gridH = 141;

const textStyle = { fontFamily: FONT, fontSize: 18, color: '#000' };

function buildOption(): echarts.EChartsOption {
  const grid: any[] = [];
  const xAxis: any[] = [];
  const yAxis: any[] = [];
  const series: any[] = [];
  const graphic: any[] = [];

  panels.forEach((p, i) => {
    const left = gridLeft[p.col];
    const top = gridTop[p.row];
    const isPhase = p.kind === 'phase';
    const bottomRow = p.row === 3;

    grid.push({ left, top, width: gridW, height: gridH, show: true, borderColor: '#000', borderWidth: 1 });

    xAxis.push({
      gridIndex: i,
      type: 'value',
      min: 0,
      max: 0.5078,
      interval: 0.2,
      axisLine: { show: true, onZero: false, lineStyle: { color: '#000', width: 1 } },
      axisTick: { show: true, length: 5, lineStyle: { color: '#000' }, customValues: xTicks },
      axisLabel: {
        show: bottomRow,
        ...textStyle,
        margin: 7,
        customValues: xTicks,
        formatter: (v: number) => v.toFixed(1),
      },
      splitLine: { show: false },
      name: bottomRow ? 'f (1/s)' : '',
      nameLocation: 'middle',
      nameGap: 30,
      nameTextStyle: textStyle,
    });

    yAxis.push({
      gridIndex: i,
      type: 'value',
      min: isPhase ? -Math.PI : 0,
      max: isPhase ? Math.PI : 1,
      interval: isPhase ? Math.PI / 2 : 0.5,
      axisLine: { show: true, onZero: false, lineStyle: { color: '#000', width: 1 } },
      axisTick: { show: true, length: 5, lineStyle: { color: '#000' } },
      axisLabel: {
        show: p.col === 0,
        ...textStyle,
        margin: 8,
        formatter: (v: number) =>
          isPhase ? phaseTickLabels[Math.round(v / (Math.PI / 2)) + 2] ?? '' : v.toFixed(1),
      },
      splitLine: { show: true, lineStyle: { color: '#b0b0b0', width: 0.8 } },
    });

    if (p.dashed) {
      p.dashed.forEach((vals, k) => {
        const c = seriesColors[[0, 0, 1, 1, 2, 2, 3, 3][k]];
        series.push({
          type: 'line',
          name: 'branch ' + k,
          xAxisIndex: i,
          yAxisIndex: i,
          data: freq.map((f, j) => [f, vals[j]]),
          symbol: 'none',
          silent: true,
          lineStyle: { color: c, width: 1.3, type: [5, 2.5], opacity: 0.35 },
          itemStyle: { color: c },
          z: 1,
        });
      });
    }

    p.lines.forEach((vals, k) => {
      const c = seriesColors[k];
      series.push({
        type: 'line',
        name: seriesNames[k],
        xAxisIndex: i,
        yAxisIndex: i,
        data: freq.map((f, j) => [f, vals[j]]),
        symbol: 'none',
        lineStyle: { color: c, width: 1.2 },
        itemStyle: { color: c },
        z: 2,
        markLine:
          k === p.lines.length - 1
            ? {
                silent: true,
                symbol: ['none', 'none'],
                label: { show: false },
                lineStyle: { color: '#000', type: [1.5, 2.5], width: 1.6 },
                data: markerFreqs.map((f) => ({ xAxis: f })),
              }
            : undefined,
      });
    });

    graphic.push({
      type: 'text',
      x: left + gridW - 5,
      y: top + 14,
      style: { text: panelLabels[i], align: 'right', verticalAlign: 'middle', font: `18px "${FONT}"`, fill: '#000' },
      z: 10,
    });
  });

  columnTitles.forEach((t, c) => {
    graphic.push({
      type: 'text',
      x: gridLeft[c] + gridW / 2,
      y: 71,
      style: { text: t, align: 'center', verticalAlign: 'middle', font: `18px "${FONT}"`, fill: '#000' },
    });
  });

  gridTop.forEach((top, r) => {
    graphic.push({
      type: 'text',
      x: r % 2 === 0 ? 38 : 25,
      y: top + gridH / 2,
      rotation: Math.PI / 2,
      style: {
        text: rowNames[r],
        align: 'center',
        verticalAlign: 'middle',
        font: `18px "${FONT}"`,
        fill: '#000',
      },
    });
  });

  return {
    animation: false,
    backgroundColor: '#fff',
    textStyle: { fontFamily: FONT },
    legend: {
      data: seriesNames,
      left: 275,
      top: 14,
      orient: 'horizontal',
      icon: 'rect',
      itemWidth: 40,
      itemHeight: 1.3,
      itemGap: 42,
      padding: [7, 8, 7, 8],
      borderColor: '#cccccc',
      borderWidth: 1,
      borderRadius: 4,
      backgroundColor: 'rgba(255,255,255,0.8)',
      textStyle: { ...textStyle, padding: [0, 0, 0, 11] },
    },
    grid,
    xAxis,
    yAxis,
    series,
    graphic,
  };
}

export default function App() {
  const chartRef = useRef<HTMLDivElement>(null);

  useEffect(() => {
    if (!chartRef.current) return;
    const chart = echarts.init(chartRef.current, undefined, { renderer: 'svg' });
    chart.setOption(buildOption());
    return () => {
      chart.dispose();
    };
  }, []);

  return (
    <div
      ref={chartRef}
      style={{ position: 'absolute', left: 0, top: 0, width: 996, height: 796, background: '#fff' }}
    />
  );
}
